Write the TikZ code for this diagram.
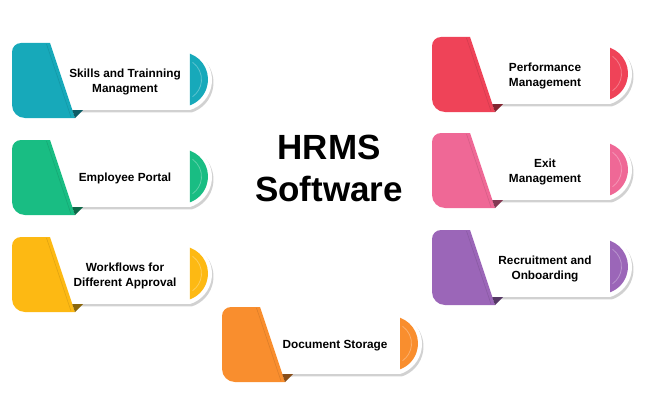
\documentclass[tikz,border=0pt]{standalone}
\usepackage{fontspec}
\setmainfont{Liberation Sans}
\usetikzlibrary{shadows}

\definecolor{skillteal}{HTML}{17A9BA}
\definecolor{portalgreen}{HTML}{19BD83}
\definecolor{flowyellow}{HTML}{FDB913}
\definecolor{docorange}{HTML}{F98E2E}
\definecolor{perfred}{HTML}{EF4358}
\definecolor{exitpink}{HTML}{EF6896}
\definecolor{recpurple}{HTML}{9B66B8}

\tikzset{cardtext/.style={font=\bfseries\fontsize{11.8}{15}\selectfont, align=center}}
\tikzset{headline/.style={font=\bfseries\fontsize{35}{42}\selectfont, anchor=base}}
\tikzset{cardshadow/.style={drop shadow={shadow xshift=1.5pt, shadow yshift=-2.5pt, opacity=.3, fill=black!60}}}

% #1 name, #2 top left corner, #3 colour, #4 text
\newcommand{\hrcard}[4]{%
  \begin{scope}[shift={(#2)}]
    \fill[white, cardshadow] (25,-7) -- (178.1,-7)
      arc[start angle=72.2, end angle=-72.2, radius=31.5] -- (25,-67) -- cycle;
    \fill[#3] (168.5,-36.5) ++(69.8:27.5)
      arc[start angle=69.8, end angle=-69.8, radius=27.5] -- cycle;
    \draw[white, opacity=.3, line width=.8] (168.5,-36.5) ++(55:21)
      arc[start angle=55, end angle=-55, radius=21];
    \fill[#3] (38,0) -- (9,0) arc[start angle=90, end angle=180, radius=9]
      -- (0,-62) arc[start angle=180, end angle=270, radius=13] -- (63,-75) -- cycle;
    \draw[#3!88!black, line width=.5] (34.5,-1) -- (59,-74);
    \fill[#3!55!black] (60.3,-67) -- (71,-67) -- (63,-75) -- cycle;
    \node[cardtext] (#1) at (113,-38.5) {#4};
  \end{scope}}

\begin{document}
\begin{tikzpicture}[x=1pt, y=1pt]

\useasboundingbox (0,0) rectangle (650,400);

% left column
\hrcard{skills}{12,357}{skillteal}{Skills and Trainning\\Managment}
\hrcard{portal}{12,260}{portalgreen}{Employee Portal}
\hrcard{workflows}{12,163}{flowyellow}{Workflows for\\Different Approval}

% bottom
\hrcard{storage}{222,93}{docorange}{Document Storage}

% right column
\hrcard{performance}{432,363}{perfred}{Performance\\Management}
\hrcard{exit}{432,267}{exitpink}{Exit\\Management}
\hrcard{recruitment}{432,170}{recpurple}{Recruitment and\\Onboarding}

% title
\node[headline] (hrms) at (329,241) {HRMS};
\node[headline] (software) at (329,199) {Software};

\end{tikzpicture}
\end{document}
